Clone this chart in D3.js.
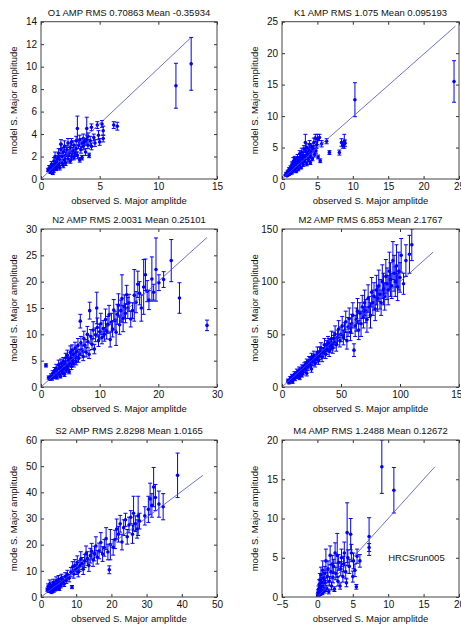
<!DOCTYPE html>
<html>
<head>
<meta charset="utf-8">
<script src="https://cdn.jsdelivr.net/npm/d3@7"></script>
<style>
  body { margin: 0; background: #fff; }
  text { font-family: "Liberation Sans", Arial, sans-serif; fill: #111; }
</style>
</head>
<body>
<div id="chart"></div>
<script>
// each row: [observed, model, error half-length]
const o1Points = [[0.6,0.8,0.15],[0.7,1.0,0.2],[0.8,0.6,0.1],[0.9,0.9,0.2],[0.9,1.3,0.25],[1.0,0.5,0.1],[1.0,1.1,0.3],[1.1,0.8,0.2],[1.1,1.6,0.3],[1.2,1.2,0.2],[1.2,2.0,0.4],[1.3,0.9,0.15],[1.3,1.5,0.3],[1.4,1.1,0.2],[1.4,1.8,0.3],[1.5,1.3,0.2],[1.5,2.3,0.4],[1.6,1.0,0.2],[1.6,1.7,0.3],[1.7,2.6,0.5],[1.7,3.1,0.4],[1.8,1.4,0.2],[1.8,2.0,0.3],[1.9,1.2,0.2],[1.9,2.4,0.4],[2.0,1.7,0.3],[2.0,2.9,0.5],[2.1,2.1,0.3],[2.1,1.4,0.2],[2.2,2.6,0.4],[2.3,1.8,0.3],[2.3,3.2,0.4],[2.4,2.3,0.3],[2.5,1.6,0.2],[2.5,2.8,0.4],[2.6,2.0,0.3],[2.6,3.3,0.3],[2.7,2.5,0.3],[2.8,1.9,0.2],[2.8,3.0,0.4],[2.9,2.3,0.3],[3.0,3.4,0.4],[3.0,2.7,0.3],[3.1,4.5,1.1],[3.1,2.1,0.3],[3.2,3.0,0.3],[3.3,1.7,0.2],[3.3,3.5,0.4],[3.4,2.6,0.3],[3.5,3.2,0.4],[3.5,1.9,0.2],[3.6,3.6,0.4],[3.6,2.9,0.3],[3.7,3.3,0.3],[3.8,2.4,0.3],[3.9,4.5,1.0],[3.9,3.5,0.4],[4.0,3.0,0.3],[4.0,3.8,0.3],[4.1,2.1,0.2],[4.2,3.4,0.4],[4.3,4.6,0.3],[4.3,2.9,0.3],[4.5,3.7,0.3],[4.6,3.2,0.3],[4.8,4.8,0.3],[4.9,3.9,0.4],[5.0,3.3,0.3],[5.2,4.9,0.3],[5.3,4.3,0.4],[5.3,3.6,0.3],[6.2,4.8,0.3],[6.5,4.7,0.35],[11.5,8.3,2.0],[12.8,10.25,2.35]];

const k1Points = [[0.5,0.6,0.1],[0.6,0.9,0.15],[0.7,0.5,0.1],[0.8,1.2,0.2],[0.9,0.8,0.15],[1.0,1.5,0.3],[1.0,0.7,0.1],[1.1,1.1,0.2],[1.2,1.8,0.3],[1.2,0.9,0.15],[1.3,1.4,0.2],[1.4,2.3,0.4],[1.4,1.0,0.2],[1.5,1.7,0.3],[1.6,2.8,0.6],[1.6,1.3,0.2],[1.7,2.1,0.3],[1.8,1.5,0.2],[1.8,3.2,0.4],[1.9,2.4,0.3],[2.0,1.2,0.2],[2.0,2.9,0.4],[2.1,1.9,0.3],[2.2,3.4,0.5],[2.3,2.5,0.3],[2.3,1.5,0.2],[2.4,3.0,0.4],[2.5,4.0,0.5],[2.5,2.1,0.3],[2.6,3.5,0.4],[2.7,1.8,0.2],[2.7,2.7,0.3],[2.8,4.3,0.6],[2.9,3.2,0.4],[3.0,2.3,0.3],[3.0,3.8,0.4],[3.1,4.8,0.5],[3.2,2.9,0.3],[3.3,5.8,1.3],[3.3,3.5,0.4],[3.4,4.3,0.5],[3.5,2.4,0.3],[3.5,5.0,0.6],[3.6,3.9,0.4],[3.7,3.1,0.3],[3.8,4.6,0.5],[3.9,5.5,0.6],[4.0,2.6,0.3],[4.0,3.6,0.4],[4.1,4.2,0.4],[4.2,5.1,0.5],[4.3,3.2,0.3],[4.4,4.8,0.5],[4.5,5.8,0.7],[4.6,3.9,0.4],[4.7,6.5,0.6],[4.8,4.5,0.4],[4.9,5.4,0.5],[5.0,6.3,0.8],[5.1,3.5,0.3],[5.3,6.6,0.5],[5.4,2.9,0.3],[5.6,5.6,0.5],[6.3,6.0,0.4],[6.7,4.2,0.3],[8.1,4.2,0.4],[8.4,5.8,0.6],[8.6,5.3,0.4],[8.8,6.0,1.1],[8.9,5.7,0.5],[10.3,12.6,2.7],[24.3,15.5,3.3]];

const n2Points = [[0.85,4.1,0.3],[1.3,1.8,0.3],[1.5,1.5,0.2],[1.7,2.1,0.4],[1.9,1.6,0.3],[2.0,2.6,0.5],[2.2,1.9,0.3],[2.3,3.1,0.6],[2.5,2.3,0.4],[2.6,3.6,0.7],[2.7,1.8,0.3],[2.8,2.9,0.5],[3.0,4.2,0.9],[3.1,2.5,0.4],[3.2,3.4,0.5],[3.3,2.0,0.3],[3.4,4.5,0.8],[3.5,3.0,0.5],[3.6,3.9,0.6],[3.7,2.7,0.4],[3.8,4.9,0.7],[3.9,3.5,0.5],[4.0,2.4,0.4],[4.1,4.3,0.6],[4.2,5.5,0.9],[4.3,3.2,0.5],[4.4,4.0,0.5],[4.5,6.0,1.0],[4.6,3.6,0.5],[4.7,5.0,0.7],[4.8,2.9,0.4],[4.9,4.5,0.6],[5.0,6.6,1.2],[5.1,5.5,0.8],[5.2,3.9,0.6],[5.3,7.0,1.0],[5.4,5.0,0.7],[5.5,6.2,0.9],[5.6,4.4,0.6],[5.8,7.4,1.1],[5.9,5.8,0.8],[6.0,4.8,0.6],[6.1,6.8,1.0],[6.3,7.9,1.3],[6.4,5.4,0.7],[6.6,6.3,0.8],[6.7,12.5,1.3],[6.8,8.4,1.2],[7.0,7.0,1.0],[7.2,5.8,0.8],[7.3,9.2,1.4],[7.5,7.9,1.1],[7.7,6.6,0.9],[7.9,10.0,1.5],[8.0,8.6,1.2],[8.2,6.2,0.8],[8.3,14.5,1.6],[8.5,9.6,1.3],[8.7,8.1,1.0],[8.9,10.8,1.6],[9.1,7.2,0.9],[9.3,9.9,1.3],[9.5,15.0,3.0],[9.6,11.3,1.8],[9.8,8.8,1.1],[10.0,10.5,1.4],[10.2,12.0,2.0],[10.4,9.4,1.2],[10.6,11.1,1.5],[10.8,10.0,1.3],[11.0,12.8,2.0],[11.2,10.6,1.5],[11.4,11.8,1.6],[11.6,13.7,1.8],[11.8,9.0,1.4],[12.0,12.3,1.7],[12.2,11.0,1.5],[12.4,14.6,2.0],[12.6,12.6,1.8],[12.8,10.4,2.5],[13.0,13.8,1.9],[13.2,15.5,2.2],[13.4,11.8,1.8],[13.6,14.5,2.0],[13.8,16.8,4.5],[14.0,13.0,2.5],[14.2,15.3,2.2],[14.4,14.0,1.8],[14.6,17.5,1.8],[14.8,15.0,2.0],[15.0,16.0,1.6],[15.3,12.9,1.5],[15.6,14.5,1.5],[15.9,17.4,4.9],[16.2,16.1,2.0],[16.5,19.5,2.5],[16.8,17.8,2.2],[17.1,15.0,2.5],[17.5,19.0,5.2],[17.8,21.3,3.0],[18.1,18.2,2.0],[18.4,16.5,1.8],[18.9,20.5,4.2],[19.2,18.0,1.5],[19.6,22.3,6.0],[20.1,19.8,1.5],[20.9,20.4,1.5],[22.2,24.0,4.0],[23.6,16.9,2.9],[28.3,11.7,1.0]];

const m2Points = [[5,6,1.5],[6,4,1],[7,8,2],[7,6,1],[8,7,1.5],[8.5,10,2],[9,5,1.5],[9,9,1.5],[10,9,2],[10.5,12,2.5],[11,8,2],[11,11,1.5],[12,11,2],[12.5,14,3],[13,10,2],[13,12,2],[14,13,2.5],[14.5,16,3],[15,9,2],[15,14,2],[16,15,3],[16,12,2],[17,18,3],[17,12,2.5],[18,14,2.5],[18,18,2.5],[19,20,3],[20,17,3],[20,21,3],[21,23,3.5],[21,13,2.5],[22,19,3],[22,22,3],[23,25,4],[24,21,3],[24,25,3],[25,28,4],[25,17,3],[26,24,3.5],[26,27,3],[27,30,4],[28,22,3],[28,26,3],[29,27,4],[30,33,5],[30,29,3],[31,25,3.5],[32,30,4],[32,34,4],[33,37,5],[34,28,4],[34,33,4],[35,33,4.5],[36,40,6],[36,36,4],[37,31,4],[38,36,5],[38,39,5],[39,42,6],[40,34,5],[40,41,5],[41,39,6],[42,46,7],[42,40,5],[43,37,5],[44,43,6],[44,46,6],[45,50,8],[46,40,6],[47,47,7],[48,55,8],[49,44,6],[50,50,7],[51,58,9],[52,47,7],[53,53,8],[54,62,10],[55,44,8],[56,57,9],[57,65,10],[58,52,8],[59,60,9],[60,68,12],[61,35,6],[62,58,10],[63,64,11],[64,72,12],[65,54,9],[66,70,10],[67,60,12],[68,76,11],[69,66,10],[70,80,12],[71,72,11],[72,64,12],[73,84,13],[74,76,10],[75,68,12],[76,90,14],[77,80,12],[78,86,13],[79,74,11],[80,92,14],[81,84,12],[82,96,15],[83,88,14],[84,80,12],[85,100,16],[86,93,15],[87,86,13],[88,105,16],[89,98,15],[90,92,14],[91,110,18],[92,102,16],[93,96,12],[94,120,18],[95,108,17],[96,100,14],[97,115,20],[98,95,13],[99,110,18],[100,104,14],[101,125,16],[103,98,10],[105,120,15],[108,126,18],[110,135,15]];

const s2Points = [[1.8,2.8,0.6],[2.0,4.0,1.0],[2.2,2.2,0.5],[2.4,3.3,0.8],[2.5,5.0,1.5],[2.7,2.6,0.6],[2.9,3.8,0.9],[3.0,1.8,0.5],[3.2,4.5,1.2],[3.3,3.0,0.7],[3.5,5.5,1.3],[3.6,2.4,0.6],[3.8,3.7,0.8],[4.0,4.9,1.1],[4.1,2.9,0.6],[4.3,6.2,1.5],[4.5,3.5,0.8],[4.7,5.0,1.0],[4.9,4.1,0.9],[5.0,6.8,1.4],[5.2,3.2,0.7],[5.4,5.6,1.2],[5.6,4.4,0.9],[5.8,7.2,1.5],[6.0,5.8,1.2],[6.3,6.6,1.3],[6.6,5.0,1.0],[6.9,7.8,1.5],[7.2,6.4,1.2],[7.5,8.6,1.6],[8.0,7.2,1.4],[8.8,3.8,0.6],[8.5,9.5,1.8],[9.0,11.5,2.0],[9.3,8.8,1.6],[9.6,12.0,2.3],[10.0,10.5,1.9],[10.3,13.2,2.5],[10.6,9.5,1.8],[11.0,11.9,2.1],[11.3,14.5,2.8],[11.7,12.8,2.3],[12.0,10.6,2.0],[12.4,13.8,2.5],[12.8,16.5,3.0],[13.2,14.7,2.6],[13.6,12.0,2.2],[14.0,15.8,2.8],[14.4,17.5,3.0],[14.8,14.2,2.5],[15.2,16.6,2.8],[15.6,19.5,3.5],[16.0,15.2,2.6],[16.5,17.6,3.0],[17.0,20.8,3.8],[17.5,16.4,2.8],[18.0,18.8,3.2],[18.5,22.3,4.2],[19.0,17.2,3.0],[19.4,10.4,1.5],[19.7,20.0,5.8],[20.5,19.0,3.0],[21.0,22.0,3.5],[21.5,26.0,3.8],[22.0,24.0,3.0],[22.5,28.0,3.2],[23.0,21.0,3.0],[23.5,26.5,3.0],[24.0,29.5,2.5],[24.5,23.0,2.8],[25.0,27.5,3.0],[25.5,30.5,2.5],[26.0,24.0,3.5],[26.3,32.0,6.5],[26.8,28.0,3.0],[27.3,26.0,3.5],[27.6,31.0,7.5],[28.0,29.0,3.0],[29.5,31.0,3.5],[30.5,33.5,5.0],[31.0,37.5,6.0],[31.5,35.0,4.5],[32.0,42.0,7.5],[32.5,38.0,5.0],[33.5,35.5,5.0],[34.7,34.5,5.0],[38.8,46.5,8.5]];

const m4Points = [[0.05,0.2,0.2],[0.1,0.6,0.3],[0.15,1.0,0.4],[0.2,0.3,0.2],[0.25,1.6,0.6],[0.3,0.8,0.3],[0.35,2.2,0.8],[0.4,0.4,0.2],[0.45,1.3,0.5],[0.5,2.8,1.0],[0.55,0.9,0.3],[0.6,1.9,0.6],[0.7,0.5,0.2],[0.75,3.4,1.2],[0.8,1.4,0.5],[0.9,2.4,0.7],[1.0,0.8,0.3],[1.05,3.0,0.9],[1.1,1.8,0.6],[1.2,4.6,1.5],[1.3,1.1,0.4],[1.4,2.6,0.8],[1.5,3.6,1.0],[1.6,0.7,0.3],[1.7,2.0,0.6],[1.8,5.3,1.2],[1.9,3.2,0.9],[2.0,1.4,0.5],[2.1,4.2,1.1],[2.2,2.5,0.7],[2.3,3.9,0.9],[2.4,1.0,0.3],[2.5,5.6,1.3],[2.6,3.0,0.8],[2.8,5.3,2.8],[2.9,2.0,0.6],[3.0,4.4,1.0],[3.2,1.4,0.4],[3.3,3.6,0.9],[3.4,5.0,1.1],[3.6,2.6,0.7],[3.7,4.2,1.0],[3.8,5.6,1.4],[4.0,3.2,0.8],[4.1,1.8,0.5],[4.2,8.2,3.8],[4.3,5.0,1.0],[4.5,3.9,0.9],[4.7,8.0,2.0],[4.8,5.6,1.1],[5.0,2.6,0.7],[5.1,4.6,1.0],[5.3,3.4,0.8],[5.5,1.3,0.3],[5.6,5.2,0.9],[6.0,4.6,0.8],[7.3,7.7,2.4],[7.3,6.3,0.5],[9.1,16.6,3.4],[10.8,13.6,2.9]];

// ends of the reference (1:1) lines, [observed, model]
const o1Line = [[0, 0], [12.8, 12.6]];
const k1Line = [[0, 0], [24.5, 24.3]];
const n2Line = [[0, 0], [28.3, 28.4]];
const m2Line = [[0, 0], [128, 128]];
const s2Line = [[0, 0], [46, 46.5]];
const m4Line = [[0, 0], [16.6, 16.6]];

const titles = ["O1 AMP RMS 0.70863 Mean -0.35934", "K1 AMP RMS 1.075 Mean 0.095193",
                "N2 AMP RMS 2.0031 Mean 0.25101", "M2 AMP RMS 6.853 Mean 2.1767",
                "S2 AMP RMS 2.8298 Mean 1.0165", "M4 AMP RMS 1.2488 Mean 0.12672"];
const xTickVals = [[0, 5, 10, 15], [0, 5, 10, 15, 20, 25], [0, 10, 20, 30],
                   [0, 50, 100, 150], [0, 10, 20, 30, 40, 50], [-5, 0, 5, 10, 15, 20]];
const yTickVals = [[0, 2, 4, 6, 8, 10, 12, 14], [0, 5, 10, 15, 20, 25], [0, 5, 10, 15, 20, 25, 30],
                   [0, 50, 100, 150], [0, 10, 20, 30, 40, 50, 60], [0, 5, 10, 15, 20]];
const xLabel = "observed S. Major amplitde";
const yLabels = ["model S. Major amplitude", "model S. Major amplitude", "model S. Major amplitude",
                 "model S. Major amplitude", "mode S. Major amplitude", "mode S. Major amplitude"];
const note = {text: "HRCSrun005", x: 10, y: 5}; // in the M4 panel

const width = 461, height = 627;
const blue = "#0000ff";

let svg = d3.select("#chart")
    .append("svg")
    .attr("width", width)
    .attr("height", height);

// plot boxes in pixels
const cols = [[41, 217], [282, 459]];
const rows = [[21.7, 179], [229, 387], [440, 597]];

const pointSets = [o1Points, k1Points, n2Points, m2Points, s2Points, m4Points];
const lines = [o1Line, k1Line, n2Line, m2Line, s2Line, m4Line];

pointSets.forEach((pts, i) => {
    const [left, right] = cols[i % 2];
    const [top, bottom] = rows[Math.floor(i / 2)];
    const xt = xTickVals[i], yt = yTickVals[i];

    let x = d3.scaleLinear().domain([xt[0], xt[xt.length - 1]]).range([left, right]);
    let y = d3.scaleLinear().domain([yt[0], yt[yt.length - 1]]).range([bottom, top]);

    let g = svg.append("g");

    g.append("clipPath").attr("id", "clip" + i)
        .append("rect")
        .attr("x", left).attr("y", top)
        .attr("width", right - left).attr("height", bottom - top);

    let plot = g.append("g").attr("clip-path", `url(#clip${i})`);

    // error bars
    let bars = plot.selectAll(".eb")
        .data(pts)
        .join("g")
        .attr("stroke", blue)
        .attr("stroke-width", 1);
    bars.append("line")
        .attr("x1", d => x(d[0])).attr("x2", d => x(d[0]))
        .attr("y1", d => y(d[1] - d[2])).attr("y2", d => y(d[1] + d[2]));
    bars.append("line")
        .attr("x1", d => x(d[0]) - 2).attr("x2", d => x(d[0]) + 2)
        .attr("y1", d => y(d[1] + d[2])).attr("y2", d => y(d[1] + d[2]));
    bars.append("line")
        .attr("x1", d => x(d[0]) - 2).attr("x2", d => x(d[0]) + 2)
        .attr("y1", d => y(d[1] - d[2])).attr("y2", d => y(d[1] - d[2]));

    plot.selectAll(".pt")
        .data(pts)
        .join("circle")
        .attr("cx", d => x(d[0]))
        .attr("cy", d => y(d[1]))
        .attr("r", 1.8)
        .attr("fill", blue);

    plot.append("path")
        .datum(lines[i])
        .attr("d", d3.line().x(d => x(d[0])).y(d => y(d[1])))
        .attr("fill", "none")
        .attr("stroke", "#4a4ad8")
        .attr("stroke-width", 0.8);

    // axes: ticks inside on all four sides (box on)
    const tk = 3;
    g.append("g")
        .attr("transform", `translate(0,${bottom})`)
        .call(d3.axisBottom(x).tickValues(xt).tickSizeInner(-tk).tickSizeOuter(0).tickPadding(4))
        .call(a => a.select(".domain").remove())
        .call(a => a.selectAll("text").attr("font-size", 10).attr("font-family", "Liberation Sans, Arial, sans-serif").attr("fill", "#222"));
    g.append("g")
        .attr("transform", `translate(0,${top})`)
        .call(d3.axisTop(x).tickValues(xt).tickSizeInner(-tk).tickSizeOuter(0).tickFormat(""))
        .call(a => a.select(".domain").remove());
    g.append("g")
        .attr("transform", `translate(${left},0)`)
        .call(d3.axisLeft(y).tickValues(yt).tickSizeInner(-tk).tickSizeOuter(0).tickPadding(4))
        .call(a => a.select(".domain").remove())
        .call(a => a.selectAll("text").attr("font-size", 10).attr("font-family", "Liberation Sans, Arial, sans-serif").attr("fill", "#222"));
    g.append("g")
        .attr("transform", `translate(${right},0)`)
        .call(d3.axisRight(y).tickValues(yt).tickSizeInner(-tk).tickSizeOuter(0).tickFormat(""))
        .call(a => a.select(".domain").remove());
    g.selectAll(".tick line").attr("stroke", "#333");

    g.append("rect")
        .attr("x", left).attr("y", top)
        .attr("width", right - left).attr("height", bottom - top)
        .attr("fill", "none")
        .attr("stroke", "#444")
        .attr("stroke-width", 1);

    g.append("text")
        .attr("x", (left + right) / 2).attr("y", top - 6)
        .attr("text-anchor", "middle")
        .attr("font-size", 9.5)
        .text(titles[i]);

    g.append("text")
        .attr("x", (left + right) / 2).attr("y", bottom + 25)
        .attr("text-anchor", "middle")
        .attr("font-size", 9.5)
        .text(xLabel);

    g.append("text")
        .attr("transform", `translate(${left - 24},${(top + bottom) / 2}) rotate(-90)`)
        .attr("text-anchor", "middle")
        .attr("font-size", 9.5)
        .text(yLabels[i]);

    if (i === 5) {
        g.append("text")
            .attr("x", x(note.x)).attr("y", y(note.y))
            .attr("dy", "0.35em")
            .attr("font-size", 9.5)
            .text(note.text);
    }
});
</script>
</body>
</html>
